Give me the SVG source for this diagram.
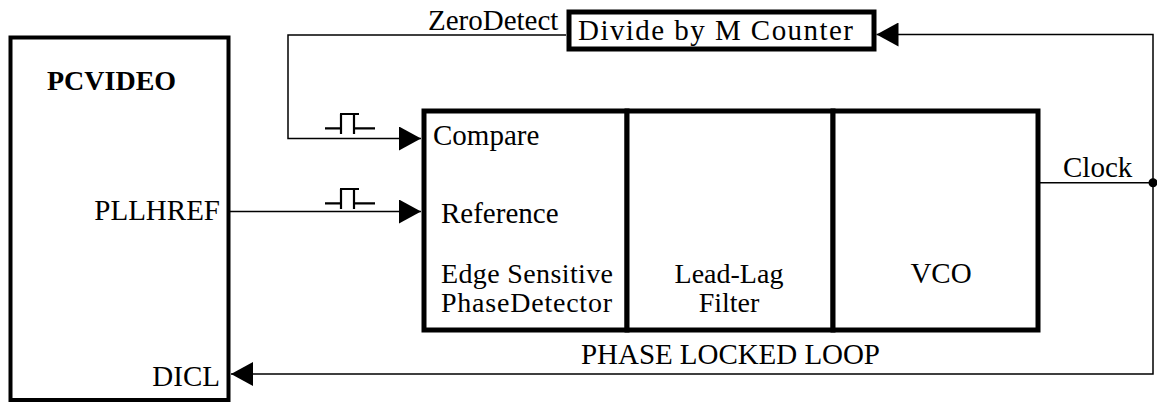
<svg xmlns="http://www.w3.org/2000/svg" width="1157" height="403" viewBox="0 0 1157 403">
<style>
.t{font-family:"Liberation Serif",Tinos,"Times New Roman","DejaVu Serif",serif;font-size:29px;fill:#000}
.b{font-weight:bold;font-size:28px}
.s{font-size:28px}
.box{fill:#fff;stroke:#000;stroke-width:5}
.ln{fill:none;stroke:#000;stroke-width:1.5}
.pulse{fill:none;stroke:#000;stroke-width:2.2}
</style>
<defs>
<marker id="arr" markerUnits="userSpaceOnUse" markerWidth="22" markerHeight="24" refX="22" refY="12" orient="auto">
<path d="M0,0 L22,12 L0,24 z" fill="#000"/>
</marker>
</defs>
<g id="connectors">
<path class="ln" d="M566,35 H288 V138.5 H421" marker-end="url(#arr)"/>
<path class="ln" d="M230,211.5 H421" marker-end="url(#arr)"/>
<path class="ln" d="M1040,182.7 H1153"/>
<path class="ln" d="M1153,182.7 V34.5 H876.5" marker-end="url(#arr)"/>
<path class="ln" d="M1153,182.7 V374 H231" marker-end="url(#arr)"/>
<circle cx="1153" cy="182.7" r="4.5" fill="#000"/>
<path class="pulse" d="M325,128.3 H341 M341,114 V134 M340,114 H359 M354,114 V134 M354,128.3 H375"/>
<path class="pulse" d="M325,203.3 H341 M341,189 V209 M340,189 H359 M354,189 V209 M354,203.3 H375"/>
<text class="t" x="428" y="30">ZeroDetect</text>
<text class="t" x="1063" y="177">Clock</text>
<text class="t" x="581" y="364" textLength="299">PHASE LOCKED LOOP</text>
</g>
<g id="pcvideo">
<rect class="box" x="10.5" y="37.5" width="218" height="362.5" style="stroke-width:4"/>
<text class="t b" x="47" y="90">PCVIDEO</text>
<text class="t" x="220" y="220" text-anchor="end">PLLHREF</text>
<text class="t" x="220" y="386" text-anchor="end">DICL</text>
</g>
<g id="divider">
<rect class="box" x="569" y="12" width="305" height="37"/>
<text class="t" x="578" y="40" textLength="275">Divide by M Counter</text>
</g>
<g id="phase-detector">
<rect class="box" x="424" y="111" width="203" height="219"/>
<text class="t" x="433" y="145">Compare</text>
<text class="t" x="441" y="223">Reference</text>
<text class="t s" x="441" y="283" textLength="172">Edge Sensitive</text>
<text class="t s" x="441" y="312" textLength="171">PhaseDetector</text>
</g>
<g id="lead-lag-filter">
<rect class="box" x="627" y="111" width="206" height="219"/>
<text class="t s" x="729" y="283" text-anchor="middle">Lead-Lag</text>
<text class="t s" x="729" y="312" text-anchor="middle">Filter</text>
</g>
<g id="vco">
<rect class="box" x="833" y="111" width="205" height="219"/>
<text class="t" x="941" y="283" text-anchor="middle">VCO</text>
</g>
</svg>
